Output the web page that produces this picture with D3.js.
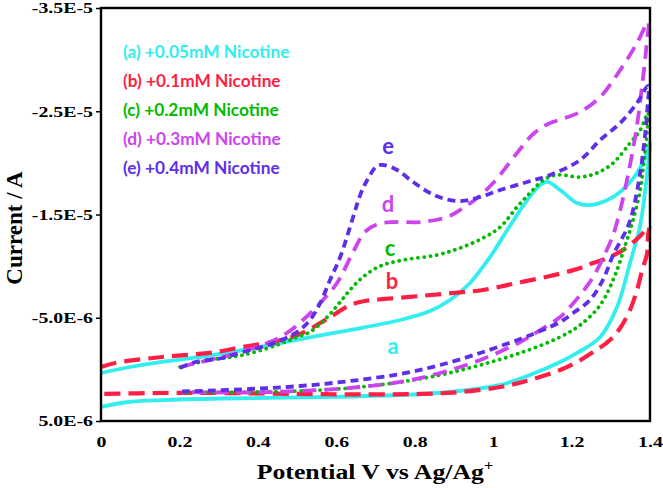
<!DOCTYPE html>
<html><head><meta charset="utf-8">
<script src="https://cdn.jsdelivr.net/npm/d3@7"></script>
<style>body{margin:0;background:#fff}</style>
</head><body>
<svg id="c" width="663" height="488"></svg>
<script>
// ---- data (potential V, current in µA; axis inverted as in reference) ----
const xTicks = [0, 0.2, 0.4, 0.6, 0.8, 1, 1.2, 1.4];
const yTicks = [5, -5, -15, -25, -35];
const yTickLabels = ["5.0E-6", "-5.0E-6", "-1.5E-5", "-2.5E-5", "-3.5E-5"];
const seriesNames = ["(a) +0.05mM Nicotine", "(b) +0.1mM Nicotine", "(c) +0.2mM Nicotine", "(d) +0.3mM Nicotine", "(e) +0.4mM Nicotine"];
const curveLetters = ["a", "b", "c", "d", "e"];
const letterV = [0.745, 0.742, 0.737, 0.732, 0.732];
const letterI = [-2.36, -8.56, -11.76, -16.11, -21.73];

const curveA = [[0,0.35],[0.074,-0.23],[0.151,-0.71],[0.253,-1.20],[0.406,-2.17],[0.508,-2.94],[0.635,-3.81],[0.763,-4.78],[0.839,-5.65],[0.890,-6.72],[0.941,-8.37],[0.992,-10.88],[1.036,-13.50],[1.087,-16.40],[1.120,-17.86],[1.138,-18.15],[1.171,-17.37],[1.214,-16.11],[1.247,-15.92],[1.286,-16.31],[1.324,-17.18],[1.367,-19.02],[1.393,-21.05],[1.400,-22.02],
  [1.395,-19.79],[1.388,-17.37],[1.375,-13.98],[1.349,-10.30],[1.316,-6.04],[1.273,-3.14],[1.214,-1.59],[1.171,-0.71],[1.094,0.54],[1.018,1.51],[0.890,2.19],[0.763,2.48],[0.508,2.72],[0.309,2.82],[0.156,2.97],[0.069,3.16],[0,3.64]];
const curveB = [[0,-0.23],[0.036,-0.62],[0.156,-1.20],[0.283,-1.63],[0.362,-2.17],[0.449,-2.75],[0.508,-3.43],[0.559,-4.49],[0.597,-5.36],[0.635,-6.23],[0.673,-6.62],[0.724,-6.82],[0.814,-7.11],[0.898,-7.40],[0.974,-7.69],[1.061,-8.37],[1.145,-9.04],[1.214,-9.72],[1.255,-10.30],[1.298,-10.88],[1.342,-11.85],[1.375,-12.92],[1.398,-13.89],
  [1.395,-13.01],[1.393,-11.27],[1.380,-9.62],[1.367,-7.69],[1.349,-5.75],[1.324,-4.01],[1.298,-2.85],[1.255,-1.68],[1.214,-0.71],[1.171,0.06],[1.094,1.03],[1.018,1.71],[0.916,2.19],[0.814,2.38],[0.686,2.43],[0.508,2.38],[0.309,2.29],[0.151,2.29],[0,2.38]];
const curveC = [[0.2015,-0.23],[0.278,-0.91],[0.362,-1.39],[0.449,-2.36],[0.500,-3.14],[0.533,-3.62],[0.577,-5.07],[0.610,-6.53],[0.635,-7.69],[0.668,-8.95],[0.712,-10.01],[0.770,-10.59],[0.857,-11.08],[0.916,-11.76],[0.974,-12.72],[1.018,-13.79],[1.061,-15.73],[1.094,-17.08],[1.128,-18.34],[1.163,-18.83],[1.222,-18.63],[1.265,-19.02],[1.306,-19.99],[1.349,-21.92],[1.375,-23.18],[1.395,-24.83],
  [1.393,-23.18],[1.385,-20.28],[1.375,-17.37],[1.357,-14.47],[1.337,-12.05],[1.311,-9.14],[1.273,-6.23],[1.222,-4.30],[1.171,-3.14],[1.069,-1.59],[0.967,-0.42],[0.865,0.54],[0.763,1.22],[0.635,1.80],[0.508,2.09],[0.380,2.19],[0.207,2.24]];
const curveD = [[0.2015,-0.23],[0.253,-0.71],[0.329,-1.39],[0.431,-2.65],[0.474,-3.52],[0.515,-4.78],[0.559,-6.43],[0.602,-8.37],[0.643,-11.37],[0.673,-13.31],[0.707,-14.08],[0.750,-14.27],[0.814,-14.27],[0.883,-14.76],[0.916,-15.44],[0.959,-16.60],[1.000,-18.05],[1.061,-20.96],[1.102,-22.80],[1.140,-23.77],[1.184,-24.35],[1.222,-24.93],[1.273,-26.38],[1.324,-29.00],[1.367,-31.61],[1.395,-33.64],
  [1.390,-30.93],[1.380,-27.54],[1.365,-23.18],[1.344,-18.83],[1.324,-15.44],[1.304,-12.82],[1.281,-10.88],[1.255,-8.95],[1.222,-7.20],[1.189,-5.75],[1.171,-5.07],[1.120,-3.81],[1.069,-2.65],[0.967,-0.91],[0.865,0.35],[0.763,1.22],[0.635,1.80],[0.508,2.09],[0.380,2.24],[0.207,2.19]];
const curveE = [[0.2015,-0.13],[0.240,-0.71],[0.309,-1.10],[0.362,-1.68],[0.449,-2.65],[0.500,-3.62],[0.533,-4.78],[0.559,-6.43],[0.584,-8.66],[0.610,-10.88],[0.643,-14.76],[0.661,-16.89],[0.679,-18.34],[0.704,-19.70],[0.722,-19.79],[0.755,-19.31],[0.796,-18.15],[0.839,-17.08],[0.878,-16.50],[0.921,-16.31],[0.967,-16.70],[1.018,-17.37],[1.087,-18.15],[1.145,-18.83],[1.222,-20.28],[1.273,-22.22],[1.324,-23.86],[1.367,-25.80],[1.395,-27.45],
  [1.393,-25.12],[1.388,-22.89],[1.375,-19.02],[1.355,-15.15],[1.342,-13.69],[1.306,-11.08],[1.281,-8.75],[1.247,-6.72],[1.204,-5.46],[1.171,-4.59],[1.120,-3.72],[1.069,-2.94],[0.967,-1.59],[0.865,-0.42],[0.763,0.45],[0.635,1.13],[0.508,1.61],[0.380,1.90],[0.207,2.14]];

const curves = [curveA, curveB, curveC, curveD, curveE];
const colors = ["#33EEEE", "#FF1F44", "#00BB00", "#CC44EE", "#5E2EE8"];
const dashes = [null, "16,8", "0.1,6.2", "14,8", "8,5"];
const widths = [3.8, 4.2, 3.8, 3.8, 3.8];

// ---- chart ----
const svg = d3.select("#c");
const x = d3.scaleLinear().domain([0, 1.4]).range([101, 650]);
const y = d3.scaleLinear().domain([5, -35]).range([421, 8]);
const serif = "'Liberation Serif', 'Times New Roman', serif";
const sans = "Lato, 'Open Sans', sans-serif";
const SX = 1.28; // horizontal stretch of the serif labels in the reference

const plot = svg.append("g");
const line = d3.line().x(d => x(d[0])).y(d => y(d[1])).curve(d3.curveCatmullRom.alpha(0.5));

curves.forEach((c, i) => {
  plot.append("path").datum(c)
    .attr("d", line)
    .attr("fill", "none")
    .attr("stroke", colors[i])
    .attr("stroke-width", widths[i])
    .attr("stroke-linecap", i === 2 ? "round" : "butt")
    .attr("stroke-linejoin", "round")
    .attr("stroke-dasharray", dashes[i]);
});

// frame
svg.append("rect").attr("x", 101).attr("y", 8).attr("width", 549).attr("height", 413)
  .attr("fill", "none").attr("stroke", "#000").attr("stroke-width", 2.4);

// y axis
const yAxis = d3.axisLeft(y).tickValues(yTicks).tickSize(5).tickPadding(3)
  .tickFormat((d, i) => yTickLabels[i]);
const gy = svg.append("g").attr("transform", "translate(101,0)").call(yAxis);
gy.select(".domain").remove();
gy.selectAll("line").attr("stroke", "#000").attr("stroke-width", 1.5);
gy.selectAll("text").attr("font-family", serif)
  .attr("font-weight", "bold").attr("font-size", 15.5).attr("fill", "#000")
  .attr("transform", `translate(-8,0) scale(${SX},1) translate(8,0)`);

// x axis
const xAxis = d3.axisBottom(x).tickValues(xTicks).tickSize(0).tickPadding(15)
  .tickFormat(d3.format("~g"));
const gx = svg.append("g").attr("transform", "translate(0,421)").call(xAxis);
gx.select(".domain").remove();
gx.selectAll(".tick text").attr("font-family", serif)
  .attr("font-weight", "bold").attr("font-size", 15.5).attr("fill", "#000")
  .attr("transform", `scale(${SX},1)`);

// axis titles
const xt = svg.append("text").attr("text-anchor", "middle")
  .attr("transform", "translate(375,479) scale(1.17,1)")
  .attr("font-family", serif).attr("font-weight", "bold").attr("font-size", 22);
xt.append("tspan").text("Potential V vs Ag/Ag");
xt.append("tspan").attr("dy", -9).attr("font-size", 14).text("+");

svg.append("text").attr("transform", "translate(22,228) rotate(-90)").attr("text-anchor", "middle")
  .attr("font-family", serif).attr("font-weight", "bold").attr("font-size", 23)
  .text("Current / A");

// legend
const legY = d3.scalePoint().domain(seriesNames).range([58, 174]);
seriesNames.forEach((n, i) => {
  svg.append("text").attr("x", 123).attr("y", legY(n))
    .attr("font-family", sans).attr("font-weight", "bold").attr("font-size", 17.3)
    .attr("fill", colors[i]).text(n);
});

// curve letters
curveLetters.forEach((l, i) => {
  svg.append("text").attr("x", x(letterV[i])).attr("y", y(letterI[i]))
    .attr("text-anchor", "middle").attr("dominant-baseline", "central")
    .attr("font-family", sans).attr("font-weight", "bold").attr("font-size", 22)
    .attr("fill", colors[i]).text(l);
});
</script>
</body></html>
